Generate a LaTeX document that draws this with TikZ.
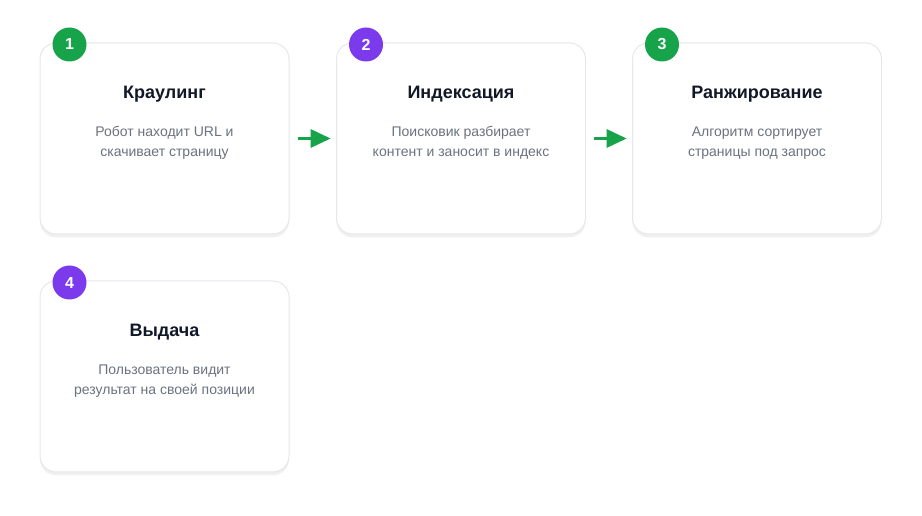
\documentclass[tikz,border=0pt]{standalone}
\usepackage{fontspec}
\setmainfont{Liberation Sans}
\usetikzlibrary{arrows.meta,shadows}
\definecolor{stepgreen}{HTML}{16A34A}
\definecolor{steppurple}{HTML}{7C3AED}
\definecolor{cardline}{HTML}{E5E7EB}
\definecolor{titleink}{HTML}{111827}
\definecolor{descink}{HTML}{6B7280}
\begin{document}
\begin{tikzpicture}[x=0.75pt,y=-0.75pt,
  card/.style={draw=cardline, line width=0.75pt, fill=white, rounded corners=12pt,
    minimum width=186.75pt, minimum height=143.25pt, inner sep=0pt,
    drop shadow={shadow xshift=0pt, shadow yshift=-2.5pt, opacity=0.06, fill=black}},
  badge/.style={circle, fill=#1, text=white, minimum size=25.5pt, inner sep=0pt,
    font=\fontsize{12}{14}\selectfont\bfseries},
  cardtitle/.style={anchor=base, text=titleink, inner sep=0pt,
    font=\fontsize{13.5}{16}\selectfont\bfseries},
  carddesc/.style={anchor=base, text=descink, inner sep=0pt, align=center,
    font=\fontsize{10.5}{15}\selectfont},
  flow/.style={draw=stepgreen, line width=2.25pt, -{Triangle[length=15pt,width=13.5pt]},
    shorten <=6pt, shorten >=4pt}]
  \useasboundingbox (0,0) rectangle (922,516);

  \foreach \n/\x/\y/\col/\title/\desc in {
    1/164.5/138.5/stepgreen/{Краулинг}/{Робот находит URL и\\скачивает страницу},
    2/461/138.5/steppurple/{Индексация}/{Поисковик разбирает\\контент и заносит в индекс},
    3/757/138.5/stepgreen/{Ранжирование}/{Алгоритм сортирует\\страницы под запрос},
    4/164.5/376.5/steppurple/{Выдача}/{Пользователь видит\\результат на своей позиции}}
  {
    \node [card] (card\n) at (\x,\y) {};
    \node [badge=\col] (badge\n) at ([xshift=22.5pt,yshift=-1.5pt]card\n.north west) {\n};
    \node [cardtitle] (title\n) at ([yshift=-42pt]card\n.north) {\title};
    \node [carddesc] (desc\n) at ([yshift=-85.5pt]card\n.north) {\desc};
  }

  \draw [flow] (card1.east) -- (card2.west);
  \draw [flow] (card2.east) -- (card3.west);

\end{tikzpicture}
\end{document}
